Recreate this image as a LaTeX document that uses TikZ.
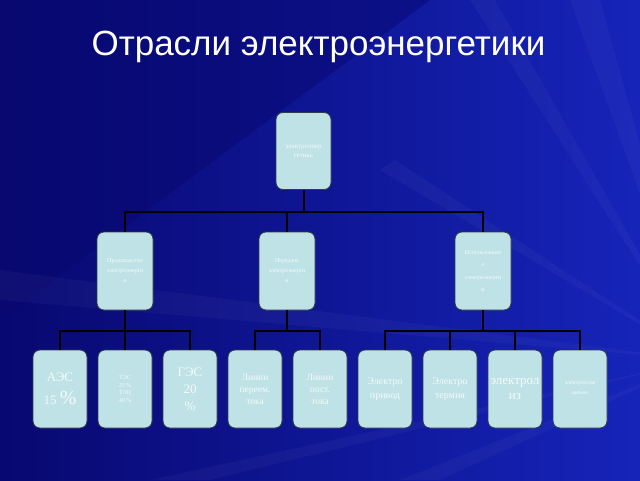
\documentclass[tikz,border=0pt]{standalone}
\usepackage{fontspec}
\setmainfont{Liberation Serif}
\newfontfamily\titlefont{Liberation Sans}
\usetikzlibrary{positioning}
\definecolor{bgdark}{RGB}{8,8,112}
\definecolor{bglight}{RGB}{22,36,185}
\definecolor{boxfill}{RGB}{190,226,230}
\definecolor{boxline}{RGB}{50,60,70}
\definecolor{boxtext}{RGB}{245,250,250}
\tikzset{
  orgbox/.style={draw=boxline, line width=0.8pt, fill=boxfill, rounded corners=7pt,
    minimum width=55pt, minimum height=77pt, inner sep=1pt, align=center,
    text=boxtext, font=\fontsize{7}{9}\selectfont},
  midbox/.style={orgbox, minimum width=56pt, minimum height=78pt},
  leafbox/.style={orgbox, minimum width=54pt, minimum height=78pt},
  conn/.style={draw=black, line width=2pt},
  streak/.style={fill=white, opacity=0.03}
}
\begin{document}
\begin{tikzpicture}[x=1pt,y=-1pt]
\useasboundingbox (0,0) rectangle (640,480);
% background
\shade[left color=bgdark, right color=bglight] (0,0) rectangle (640,480);
\fill[bgdark, opacity=0.5] (0,0) -- (430,0) -- (0,320) -- cycle;
\fill[streak] (700,360) -- (150,480) -- (210,480) -- cycle;
\fill[streak] (700,360) -- (400,480) -- (440,480) -- cycle;
\fill[streak] (700,360) -- (470,0) -- (495,0) -- cycle;
\fill[streak] (700,360) -- (570,0) -- (600,0) -- cycle;
\fill[streak] (700,360) -- (0,270) -- (0,300) -- cycle;
\fill[streak] (700,360) -- (380,170) -- (395,160) -- cycle;
% title
\node[font=\titlefont\fontsize{35}{40}\selectfont, text=white] (title) at (318.5,47) {Отрасли электроэнергетики};
% nodes
\node[orgbox] (top) at (303.5,151) {электроэнер\\гетика};
\node[midbox, font=\fontsize{6}{10}\selectfont] (prod) at (125,271) {Производство\\электроэнерги\\и};
\node[midbox, font=\fontsize{6}{10}\selectfont] (pered) at (287,271) {Передача\\электроэнерги\\и};
\node[midbox, font=\fontsize{6}{12.5}\selectfont] (isp) at (483,271) {Использовани\\е\\электроэнерги\\и};
\node[leafbox, font=\fontsize{13}{23}\selectfont] (aes) at (60,389) {АЭС\\15 {\fontsize{20}{20}\selectfont\%}};
\node[leafbox, font=\fontsize{6}{7.5}\selectfont] (tes) at (125,389) {ТЭС\\25 \%\\ТЭЦ\\40 \%};
\node[leafbox, font=\fontsize{13}{17}\selectfont] (ges) at (190,389) {ГЭС\\20\\\%};
\node[leafbox, font=\fontsize{9.5}{12}\selectfont] (lin1) at (255,389) {Линии\\переем.\\тока};
\node[leafbox, font=\fontsize{9.5}{12}\selectfont] (lin2) at (320,389) {Линии\\пост.\\тока};
\node[leafbox, font=\fontsize{10}{14}\selectfont] (priv) at (385,389) {Электро\\привод};
\node[leafbox, font=\fontsize{10}{14}\selectfont] (term) at (450,389) {Электро\\термия};
\node[leafbox, font=\fontsize{13}{15}\selectfont] (elz) at (515,389) {электрол\\из};
\node[leafbox, font=\fontsize{6}{10}\selectfont] (osv) at (580,389) {электроосве\\щение};
% connectors
\draw[conn] (top.south) -- ++(0,22) -| (prod.north);
\draw[conn] (top.south) ++(0,22) -| (pered.north);
\draw[conn] (top.south) ++(0,22) -| (isp.north);
\draw[conn] (prod.south) -- ++(0,21) -| (aes.north);
\draw[conn] (prod.south) -- (tes.north);
\draw[conn] (prod.south) ++(0,21) -| (ges.north);
\draw[conn] (pered.south) -- ++(0,21) -| (lin1.north);
\draw[conn] (pered.south) ++(0,21) -| (lin2.north);
\draw[conn] (isp.south) -- ++(0,21) -| (priv.north);
\draw[conn] (isp.south) ++(0,21) -| (term.north);
\draw[conn] (isp.south) ++(0,21) -| (elz.north);
\draw[conn] (isp.south) ++(0,21) -| (osv.north);
\end{tikzpicture}
\end{document}
